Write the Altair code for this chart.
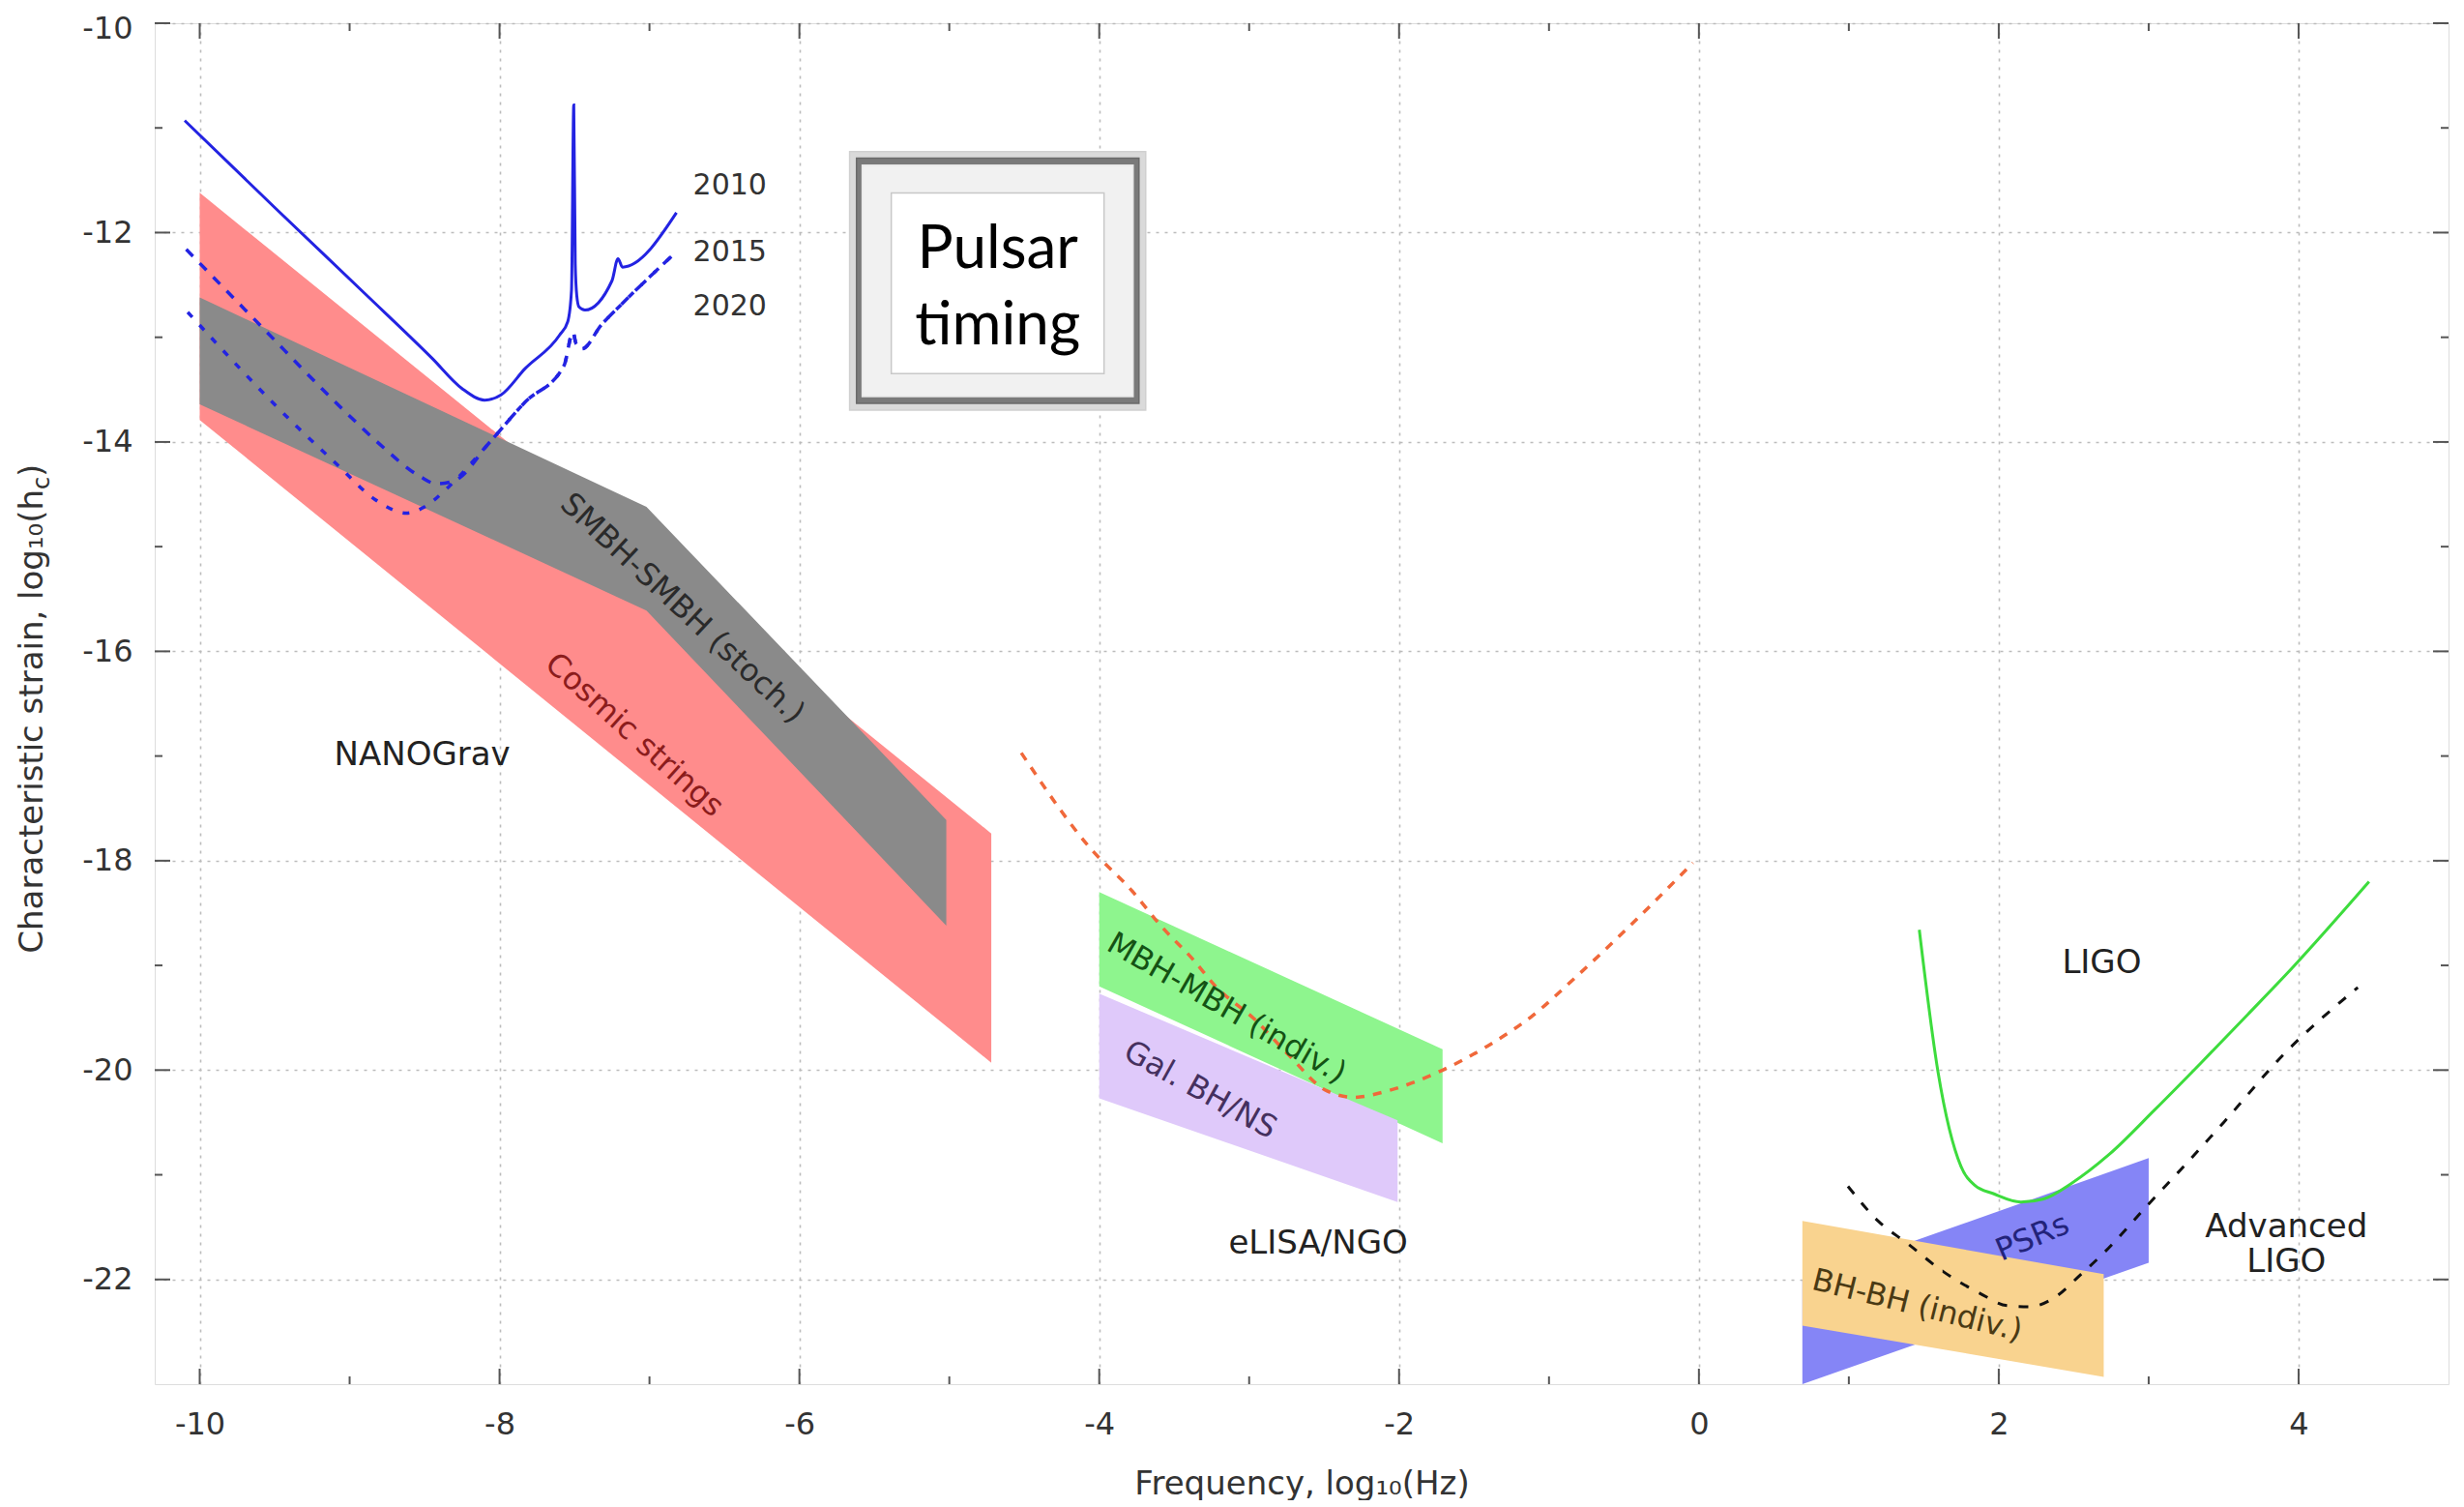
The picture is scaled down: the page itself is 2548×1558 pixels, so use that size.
import altair as alt
import pandas as pd

# ---------------- data (x: log10 frequency [Hz], y: log10 characteristic strain) ----------------
# source bands: x positions with upper / lower edge
cosmic_x = [-10.0, -4.72]
cosmic_top = [-11.62, -17.74]
cosmic_bot = [-13.79, -19.93]

smbh_x = [-10.0, -7.02, -5.02]
smbh_top = [-12.62, -14.62, -17.61]
smbh_bot = [-13.64, -15.61, -18.62]

mbh_x = [-4.0, -1.71]
mbh_top = [-18.30, -19.80]
mbh_bot = [-19.20, -20.70]

gal_x = [-4.0, -2.01]
gal_top = [-19.27, -20.48]
gal_bot = [-20.27, -21.26]

psr_x = [0.69, 3.0]
psr_top = [-22.01, -20.84]
psr_bot = [-23.0, -21.84]

bhbh_x = [0.69, 2.70]
bhbh_top = [-21.44, -21.95]
bhbh_bot = [-22.44, -22.93]

# detector sensitivity curves
pta2010_x = [-10.10, -9.5, -8.9, -8.45, -8.25, -8.10, -7.99, -7.83, -7.60, -7.545, -7.52,
             -7.505, -7.495, -7.485, -7.47, -7.43, -7.25, -7.21, -7.18, -6.82]
pta2010_y = [-10.93, -11.76, -12.58, -13.20, -13.49, -13.60, -13.55, -13.30, -12.98, -12.85, -12.55,
             -10.78, -12.30, -12.60, -12.71, -12.74, -12.46, -12.25, -12.33, -11.81]

pta2015_x = [-10.09, -9.6, -9.08, -8.8, -8.53, -8.42, -8.30, -8.07, -7.83, -7.57, -7.51,
             -7.49, -7.45, -7.32, -7.19, -6.84]
pta2015_y = [-12.16, -12.88, -13.64, -14.02, -14.33, -14.40, -14.37, -14.01, -13.62, -13.27, -12.95,
             -13.06, -13.11, -12.88, -12.69, -12.21]

pta2020_x = [-10.08, -9.34, -9.08, -8.83, -8.62, -8.50, -8.34, -8.07, -7.83, -7.57, -7.51,
             -7.49, -7.45, -7.32, -7.19, -6.84]
pta2020_y = [-12.76, -13.87, -14.22, -14.55, -14.68, -14.62, -14.43, -14.01, -13.62, -13.27, -12.95,
             -13.06, -13.11, -12.88, -12.69, -12.21]

elisa_x = [-4.52, -4.06, -3.78, -3.59, -3.37, -3.23, -2.96, -2.74, -2.48, -2.30, -2.08,
           -1.74, -1.41, -1.11, -0.82, -0.48, -0.04]
elisa_y = [-16.97, -17.88, -18.29, -18.62, -18.95, -19.19, -19.52, -19.85, -20.20, -20.26, -20.20,
           -20.02, -19.77, -19.48, -19.11, -18.65, -18.02]

ligo_x = [1.47, 1.594, 1.748, 1.84, 1.964, 2.148, 2.30, 2.487, 2.733, 3.04, 3.35, 3.66, 3.96, 4.47]
ligo_y = [-18.66, -20.01, -20.92, -21.10, -21.18, -21.26, -21.23, -21.08, -20.81, -20.38,
          -19.93, -19.47, -19.02, -18.20]

aligo_x = [0.994, 1.194, 1.394, 1.625, 1.871, 2.056, 2.21, 2.364, 2.549, 2.733, 2.98, 3.195,
           3.50, 3.90, 4.395]
aligo_y = [-21.11, -21.44, -21.66, -21.92, -22.13, -22.25, -22.26, -22.18, -21.95, -21.70,
           -21.31, -20.98, -20.50, -19.85, -19.21]

# annotation labels (text, anchor in data units)
label_text = ["SMBH-SMBH (stoch.)", "Cosmic strings", "NANOGrav", "2010", "2015", "2020",
              "MBH-MBH (indiv.)", "Gal. BH/NS", "eLISA/NGO", "LIGO", "Advanced", "LIGO ",
              "PSRs", "BH-BH (indiv.)"]
label_x = [-6.78, -7.10, -8.516, -6.71, -6.71, -6.71, -3.15, -3.326, -2.54, 2.687, 3.918, 3.918,
           2.225, 1.456]
label_y = [-15.59, -16.80, -16.99, -11.55, -12.19, -12.71, -19.41, -20.19, -21.66, -18.98,
           -21.50, -21.84, -21.60, -22.25]

# "Pulsar timing" inset (frame extents in data units)
inset_lines = ["Pulsar", "timing"]
inset_line_x = [-4.677, -4.677]
inset_line_y = [-12.341, -13.069]
frame_x1 = [-5.665, -5.619, -5.581, -5.387]
frame_x2 = [-3.690, -3.735, -3.774, -3.968]
frame_y1 = [-11.226, -11.290, -11.355, -11.622]
frame_y2 = [-13.696, -13.631, -13.567, -13.346]

# axes
x_major = [-10, -8, -6, -4, -2, 0, 2, 4]
x_minor = [-9, -7, -5, -3, -1, 1, 3]
y_major = [-22, -20, -18, -16, -14, -12, -10]
y_minor = [-21, -19, -17, -15, -13, -11]

# ---------------- chart ----------------
W, H = 2372, 1407
FONT = "DejaVu Sans"
TXT = "#333333"

XS = alt.Scale(domain=[-10.3, 5.0], nice=False, zero=False)
YS = alt.Scale(domain=[-23, -10], nice=False, zero=False)
XAX = alt.Axis(values=x_major, grid=True, gridColor="#bcbcbc", gridDash=[3, 6], gridWidth=1.6,
               ticks=False, domain=False, labelFont=FONT, labelFontSize=32, labelColor=TXT,
               labelPadding=26, labelFlush=False, labelExpr="'' + datum.value",
               title="Frequency, log₁₀(Hz)", titleFont=FONT, titleFontSize=34,
               titleFontWeight="normal", titleColor=TXT, titlePadding=29)
YAX = alt.Axis(values=y_major, grid=True, gridColor="#bcbcbc", gridDash=[3, 6], gridWidth=1.6,
               ticks=False, domain=False, labelFont=FONT, labelFontSize=32, labelColor=TXT,
               labelPadding=23, labelFlush=False, labelExpr="'' + datum.value", title=None,
               labelOffset={"condition": {"test": "datum.value == -10", "value": 5}, "value": 0})


def X(f):
    return alt.X(f, type="quantitative", scale=XS, axis=XAX)


def Y(f):
    return alt.Y(f, type="quantitative", scale=YS, axis=YAX)


def band(xs, top, bot, color):
    df = pd.DataFrame({"x": xs, "top": top, "bot": bot})
    return alt.Chart(df).mark_area(color=color, opacity=1, interpolate="linear").encode(
        x=X("x"), y=Y("top"), y2=alt.Y2("bot"))


def curve(xs, ys, color, width, dash=None):
    df = pd.DataFrame({"x": xs, "y": ys, "i": list(range(len(xs)))})
    kw = dict(color=color, strokeWidth=width, interpolate="monotone")
    if dash:
        kw["strokeDash"] = dash
    return alt.Chart(df).mark_line(**kw).encode(x=X("x"), y=Y("y"), order=alt.Order("i:Q"))


layers = []
layers.append(band(cosmic_x, cosmic_top, cosmic_bot, "#ff8c8c"))
layers.append(band(smbh_x, smbh_top, smbh_bot, "#8a8a8a"))
layers.append(band(mbh_x, mbh_top, mbh_bot, "#8ef58e"))
layers.append(band(gal_x, gal_top, gal_bot, "#dfc9fa"))
layers.append(band(psr_x, psr_top, psr_bot, "#8585f6"))
layers.append(band(bhbh_x, bhbh_top, bhbh_bot, "#f9d38f"))

layers.append(curve(elisa_x, elisa_y, "#f0683a", 3.5, [9, 9]))
layers.append(curve(pta2020_x, pta2020_y, "#2323e2", 3.5, [7, 11]))
layers.append(curve(pta2015_x, pta2015_y, "#2323e2", 3.5, [10, 10]))
layers.append(curve(pta2010_x, pta2010_y, "#2323e2", 3))
layers.append(curve(ligo_x, ligo_y, "#3ddc3d", 3))
layers.append(curve(aligo_x, aligo_y, "#111111", 3, [10, 12]))

# inset frame
frame_fill = ["#dadada", "#7a7a7a", "#f1f1f1", "#ffffff"]
frame_stroke = ["#d0d0d0", "#6a6a6a", "#e8e8e8", "#c8c8c8"]
for k in range(4):
    df = pd.DataFrame({"x": [frame_x1[k]], "x2": [frame_x2[k]], "y": [frame_y1[k]], "y2": [frame_y2[k]]})
    layers.append(alt.Chart(df).mark_rect(color=frame_fill[k], stroke=frame_stroke[k], strokeWidth=1.5).encode(
        x=X("x"), x2=alt.X2("x2"), y=Y("y"), y2=alt.Y2("y2")))
inset_df = pd.DataFrame({"x": inset_line_x, "y": inset_line_y, "t": inset_lines})
layers.append(alt.Chart(inset_df).mark_text(font="Lato", fontSize=62, color="#000000",
                                             baseline="alphabetic", align="center").encode(
    x=X("x"), y=Y("y"), text="t:N"))

# labels with their styles
styles = {
    "SMBH-SMBH (stoch.)": dict(angle=43, color="#2a2a2a", fontSize=32),
    "Cosmic strings": dict(angle=42, color="#8b1c1c", fontSize=32),
    "NANOGrav": dict(angle=0, color="#222222", fontSize=34),
    "2010": dict(angle=0, color="#333333", fontSize=30, align="left"),
    "2015": dict(angle=0, color="#333333", fontSize=30, align="left"),
    "2020": dict(angle=0, color="#333333", fontSize=30, align="left"),
    "MBH-MBH (indiv.)": dict(angle=30, color="#145214", fontSize=32),
    "Gal. BH/NS": dict(angle=29, color="#45305e", fontSize=32),
    "eLISA/NGO": dict(angle=0, color="#222222", fontSize=34),
    "LIGO": dict(angle=0, color="#222222", fontSize=34),
    "Advanced": dict(angle=0, color="#222222", fontSize=34),
    "LIGO ": dict(angle=0, color="#222222", fontSize=34),
    "PSRs": dict(angle=337, color="#23237a", fontSize=32),
    "BH-BH (indiv.)": dict(angle=14, color="#4a3a14", fontSize=32),
}
for t, lx, ly in zip(label_text, label_x, label_y):
    st = dict(font=FONT, baseline="middle", align="center")
    st.update(styles[t])
    df = pd.DataFrame({"x": [lx], "y": [ly], "t": [t.strip()]})
    layers.append(alt.Chart(df).mark_text(**st).encode(x=X("x"), y=Y("y"), text="t:N"))

# inward ticks on all four sides
def xticks(vals, length):
    df = pd.DataFrame({"v": vals})
    bottom = alt.Chart(df).mark_rule(color="#555555", strokeWidth=2).encode(
        x=X("v"), y=alt.value(H), y2=alt.value(H - length))
    top = alt.Chart(df).mark_rule(color="#555555", strokeWidth=2).encode(
        x=X("v"), y=alt.value(0), y2=alt.value(length))
    return [bottom, top]


def yticks(vals, length):
    df = pd.DataFrame({"v": vals})
    left = alt.Chart(df).mark_rule(color="#555555", strokeWidth=2).encode(
        y=Y("v"), x=alt.value(0), x2=alt.value(length))
    right = alt.Chart(df).mark_rule(color="#555555", strokeWidth=2).encode(
        y=Y("v"), x=alt.value(W), x2=alt.value(W - length))
    return [left, right]


layers += xticks(x_major, 16) + xticks(x_minor, 8) + yticks(y_major, 16) + yticks(y_minor, 8)

# y-axis title with subscript c
one = pd.DataFrame({"a": [0]})
ytitle_main = alt.Chart(one).mark_text(font=FONT, fontSize=34, color=TXT, angle=270, align="right",
                                       baseline="middle").encode(
    x=alt.value(-126), y=alt.value(482), text=alt.value("Characteristic strain, log₁₀(h"))
ytitle_sub = alt.Chart(one).mark_text(font=FONT, fontSize=24, color=TXT, angle=270, align="left",
                                      baseline="middle").encode(
    x=alt.value(-116), y=alt.value(482), text=alt.value("c"))
ytitle_close = alt.Chart(one).mark_text(font=FONT, fontSize=34, color=TXT, angle=270, align="left",
                                        baseline="middle").encode(
    x=alt.value(-126), y=alt.value(469), text=alt.value(")"))
layers += [ytitle_main, ytitle_sub, ytitle_close]

chart = alt.layer(*layers).properties(
    width=W, height=H,
    autosize=alt.AutoSizeParams(type="none"),
    padding={"left": 152, "top": 16, "right": 8, "bottom": 120},
).configure_view(stroke="#666666", strokeWidth=2.5).configure(background="white")

chart.save("out.html", embed_options={"renderer": "svg", "actions": False})
